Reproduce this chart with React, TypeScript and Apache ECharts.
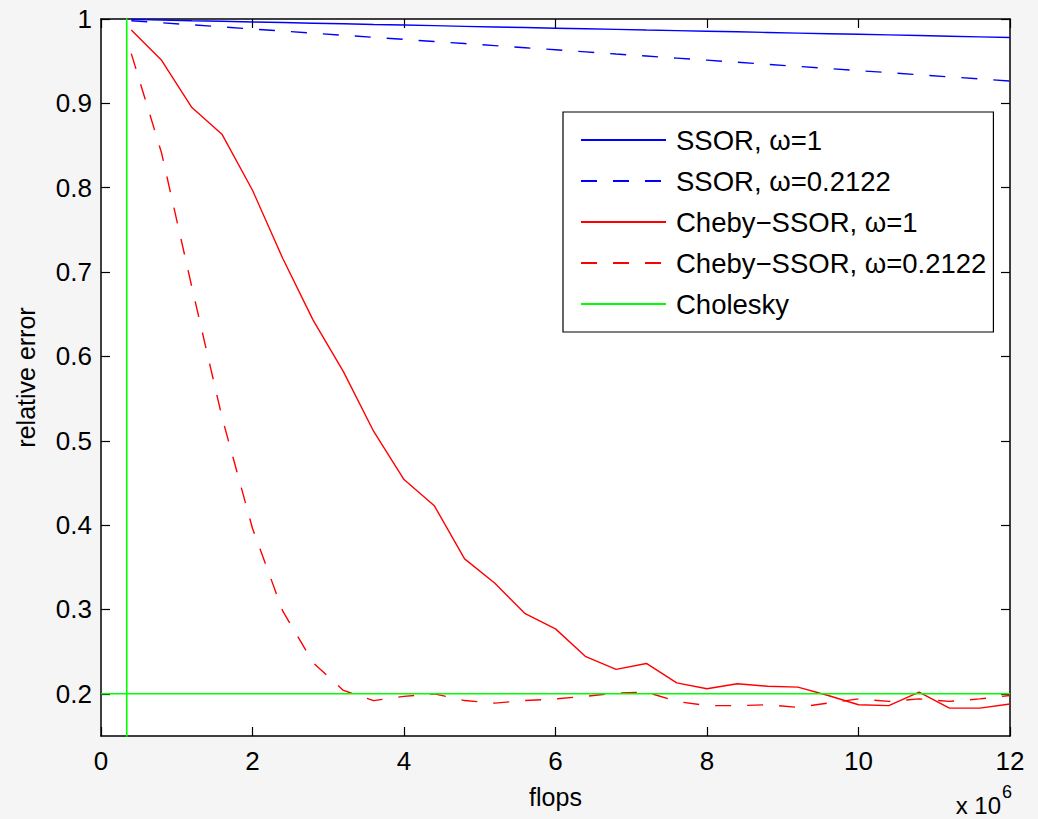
import React, { useEffect, useRef } from "react";
import * as echarts from "echarts";

const FONT = "'Liberation Sans', Arial, Helvetica, sans-serif";

const flops = [0.4, 0.8, 1.2, 1.6, 2.0, 2.4, 2.8, 3.2, 3.6, 4.0, 4.4, 4.8, 5.2, 5.6, 6.0, 6.4, 6.8, 7.2, 7.6, 8.0, 8.4, 8.8, 9.2, 9.6, 10.0, 10.4, 10.8, 11.2, 11.6, 12.0];

const ssorW1 = [0.9995, 0.9988, 0.998, 0.9973, 0.9965, 0.9958, 0.995, 0.9943, 0.9935, 0.9928, 0.9921, 0.9913, 0.9906, 0.9899, 0.9891, 0.9884, 0.9877, 0.9869, 0.9862, 0.9855, 0.9848, 0.984, 0.9833, 0.9826, 0.9819, 0.9812, 0.9804, 0.9796, 0.9788, 0.978];

const ssorW2 = [0.998, 0.9955, 0.9931, 0.9906, 0.9881, 0.9857, 0.9832, 0.9807, 0.9783, 0.9758, 0.9733, 0.9709, 0.9684, 0.9659, 0.9635, 0.961, 0.9585, 0.9561, 0.9536, 0.9512, 0.9487, 0.9462, 0.9438, 0.9413, 0.9388, 0.9364, 0.9339, 0.9314, 0.929, 0.9265];

const chebyW1 = [0.987, 0.951, 0.895, 0.863, 0.797, 0.716, 0.643, 0.582, 0.511, 0.454, 0.423, 0.36, 0.331, 0.295, 0.277, 0.244, 0.229, 0.236, 0.213, 0.206, 0.212, 0.209, 0.208, 0.198, 0.187, 0.186, 0.202, 0.183, 0.183, 0.188];

const chebyW2 = [0.959, 0.841, 0.682, 0.527, 0.396, 0.298, 0.237, 0.204, 0.192, 0.197, 0.2, 0.192, 0.189, 0.192, 0.194, 0.197, 0.201, 0.202, 0.191, 0.186, 0.186, 0.187, 0.184, 0.189, 0.194, 0.191, 0.194, 0.191, 0.194, 0.198];

const cholFlops = 0.34;
const cholError = 0.2;

const xTicks = [0, 2, 4, 6, 8, 10, 12];
const yTicks = [0.2, 0.3, 0.4, 0.5, 0.6, 0.7, 0.8, 0.9, 1];

const names = [
  "SSOR, ω=1",
  "SSOR, ω=0.2122",
  "Cheby−SSOR, ω=1",
  "Cheby−SSOR, ω=0.2122",
  "Cholesky",
];

const zip = (xs: number[], ys: number[]) => xs.map((x, i) => [x, ys[i]]);

export default function App() {
  const ref = useRef<HTMLDivElement>(null);
  useEffect(() => {
    if (!ref.current) return;
    const chart = echarts.init(ref.current, undefined, { renderer: "svg" });
    const dash = [16, 16];
    const axisCommon = {
      type: "value" as const,
      axisLine: { show: true, onZero: false, lineStyle: { color: "#000", width: 1.5 } },
      splitLine: { show: false },
    };
    const tick = (vals: number[]) => ({ show: true, inside: true, length: 9, lineStyle: { color: "#000", width: 1.2 }, customValues: vals });
    chart.setOption({
      animation: false,
      backgroundColor: "#f5f5f5",
      textStyle: { fontFamily: FONT },
      grid: { left: 101, top: 19, right: 28, bottom: 83, show: true, backgroundColor: "#fff", borderWidth: 0, containLabel: false, outerBoundsMode: "none" },
      xAxis: [
        {
          ...axisCommon,
          min: 0,
          max: 12,
          interval: 2,
          position: "bottom",
          name: "flops",
          nameLocation: "middle",
          nameGap: 48,
          nameTextStyle: { fontSize: 25, color: "#000", fontFamily: FONT },
          axisTick: tick(xTicks),
          axisLabel: { show: true, margin: 12, fontSize: 26, color: "#000", fontFamily: FONT, customValues: xTicks, formatter: (v: number) => String(v) },
        },
        {
          ...axisCommon,
          min: 0,
          max: 12,
          interval: 2,
          position: "top",
          axisTick: tick(xTicks),
          axisLabel: { show: false },
        },
      ],
      yAxis: [
        {
          ...axisCommon,
          min: 0.15,
          max: 1,
          position: "left",
          name: "relative error",
          nameLocation: "middle",
          nameGap: 63,
          nameRotate: 90,
          nameTextStyle: { fontSize: 25, color: "#000", fontFamily: FONT },
          axisTick: tick(yTicks),
          axisLabel: { show: true, margin: 9, fontSize: 26, color: "#000", fontFamily: FONT, customValues: yTicks, formatter: (v: number) => String(Math.round(v * 10) / 10) },
        },
        {
          ...axisCommon,
          min: 0.15,
          max: 1,
          position: "right",
          axisTick: tick(yTicks),
          axisLabel: { show: false },
        },
      ],
      legend: {
        data: names,
        orient: "vertical",
        left: 563,
        top: 112,
        itemWidth: 85,
        itemHeight: 2,
        itemGap: 13,
        padding: [14, 7, 14, 17],
        backgroundColor: "#fff",
        borderColor: "#000",
        borderWidth: 1.2,
        borderRadius: 0,
        itemStyle: { opacity: 0 },
        textStyle: { fontSize: 27.5, lineHeight: 27, color: "#000", fontFamily: FONT, padding: [0, 0, 0, 5] },
      },
      graphic: [
        {
          type: "text",
          x: 1001,
          y: 805,
          style: { text: "x 10", font: `24px ${FONT}`, fill: "#000", textAlign: "right", textVerticalAlign: "middle" },
        },
        {
          type: "text",
          x: 1002,
          y: 792,
          style: { text: "6", font: `18px ${FONT}`, fill: "#000", textAlign: "left", textVerticalAlign: "middle" },
        },
      ],
      series: [
        { name: names[0], type: "line", symbol: "none", data: zip(flops, ssorW1), lineStyle: { color: "#0000ff", width: 1.4 }, itemStyle: { color: "#0000ff" } },
        { name: names[1], type: "line", symbol: "none", data: zip(flops, ssorW2), lineStyle: { color: "#0000ff", width: 1.4, type: dash }, itemStyle: { color: "#0000ff" } },
        { name: names[2], type: "line", symbol: "none", data: zip(flops, chebyW1), lineStyle: { color: "#ff0000", width: 1.4 }, itemStyle: { color: "#ff0000" } },
        { name: names[3], type: "line", symbol: "none", data: zip(flops, chebyW2), lineStyle: { color: "#ff0000", width: 1.4, type: dash }, itemStyle: { color: "#ff0000" } },
        { name: names[4], type: "line", symbol: "none", data: [[cholFlops, 0.1], [cholFlops, 1.1]], lineStyle: { color: "#00ff00", width: 1.6 }, itemStyle: { color: "#00ff00" } },
        { name: names[4], type: "line", symbol: "none", data: [[0, cholError], [12, cholError]], lineStyle: { color: "#00ff00", width: 1.6 }, itemStyle: { color: "#00ff00" } },
      ],
    });
    return () => chart.dispose();
  }, []);
  return (
    <div
      ref={ref}
      style={{ position: "fixed", left: 0, top: 0, width: 1038, height: 819 }}
    />
  );
}
